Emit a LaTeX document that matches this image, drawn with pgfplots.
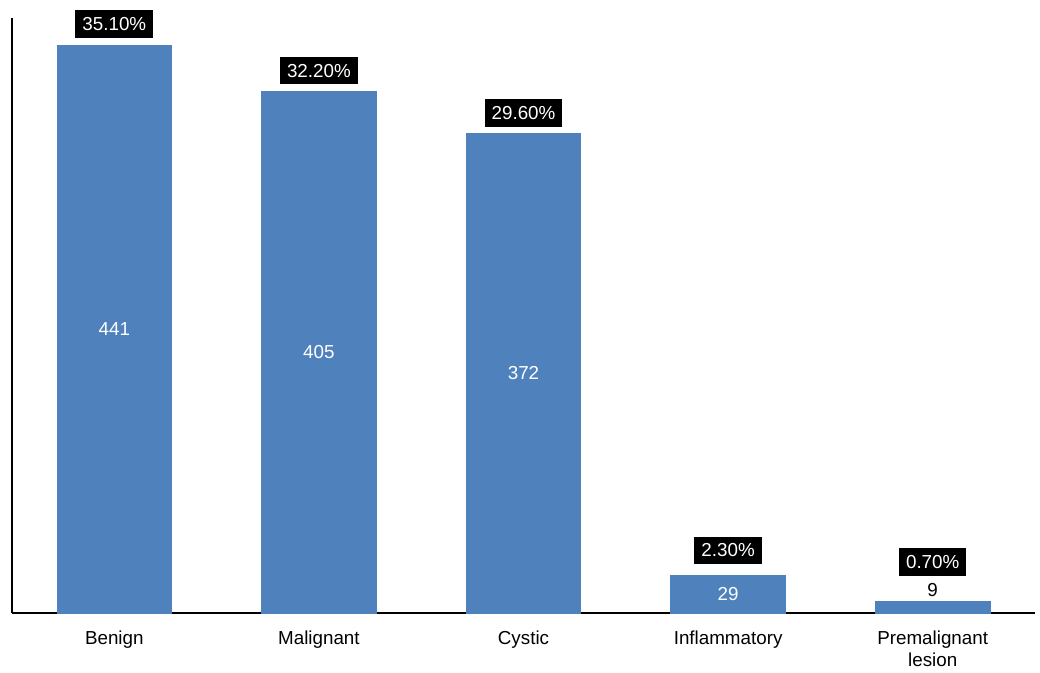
\documentclass[border=0pt]{standalone}
\usepackage{pgfplots}
\pgfplotsset{compat=1.18}
\usepackage{fontspec}
\setmainfont{Liberation Sans}
\definecolor{barblue}{RGB}{79,129,189}

\begin{document}
\fontsize{9.25}{11}\selectfont
\begin{tikzpicture}
\begin{axis}[
  scale only axis,
  width=511.5pt, height=297.5pt,
  xmin=-0.5, xmax=4.5,
  ymin=0, ymax=462,
  axis x line=bottom, axis y line=left,
  axis line style={-, black, line width=0.9pt},
  xtick={0,1,2,3,4},
  xticklabels={Benign, Malignant, Cystic, Inflammatory, {Premalignant\\lesion}},
  xticklabel style={align=center, font=\fontsize{9.4}{11}\selectfont, yshift=-5.5pt},
  ytick=\empty,
  major tick length=0pt,
  clip=false,
  ybar, bar width=0.56, bar shift=0pt,
  /pgf/number format/assume math mode=true,
  every node near coord/.append style={font=\fontsize{9.4}{11}\selectfont},
]
% counts printed inside the bars
\addplot[fill=barblue, draw=barblue,
  visualization depends on={y \as \ry},
  nodes near coords,
  nodes near coords style={text=white, anchor=center, yshift={-0.32197pt*\ry}}]
  coordinates {(0,441) (1,405) (2,372) (3,29)};
% the smallest count is printed above its bar
\addplot[fill=barblue, draw=barblue,
  nodes near coords,
  nodes near coords style={text=black, anchor=south, yshift=-1pt}]
  coordinates {(4,9)};
% percentage labels in black boxes
\addplot[draw=none, fill=none,
  point meta=explicit symbolic,
  nodes near coords,
  nodes near coords style={fill=black, text=white, anchor=south,
    inner xsep=3.5pt, inner ysep=3.6pt, yshift=3.3pt}]
  coordinates {(0,441)[35.10\%] (1,405)[32.20\%] (2,372)[29.60\%]};
\addplot[draw=none, fill=none,
  point meta=explicit symbolic,
  nodes near coords,
  nodes near coords style={fill=black, text=white, anchor=south,
    inner xsep=3.5pt, inner ysep=3.6pt, yshift=5.5pt}]
  coordinates {(3,29)[2.30\%]};
\addplot[draw=none, fill=none,
  point meta=explicit symbolic,
  nodes near coords,
  nodes near coords style={fill=black, text=white, anchor=south,
    inner xsep=3.5pt, inner ysep=3.6pt, yshift=12.5pt}]
  coordinates {(4,9)[0.70\%]};
\end{axis}
\path ([xshift=-6pt,yshift=-27pt]current axis.south west) rectangle ++(520pt,333.5pt);
\end{tikzpicture}
\end{document}
